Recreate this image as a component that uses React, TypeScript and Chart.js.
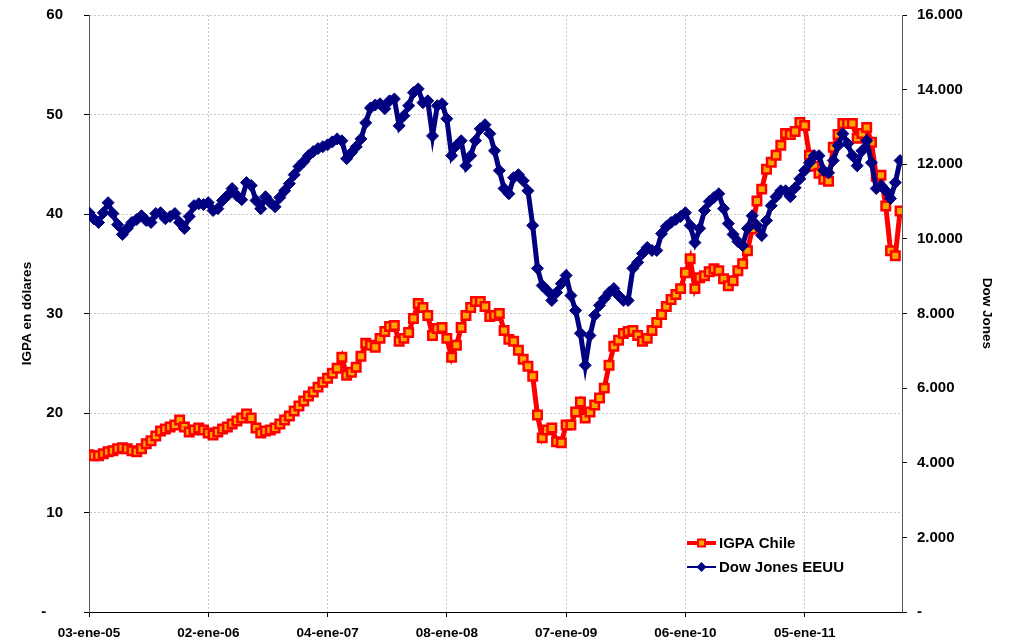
import React, { useEffect, useRef } from 'react';
import { Chart, registerables } from 'chart.js';

Chart.register(...registerables);

// X axis: trading sessions since 03-ene-05, one sample every 10 sessions
const xTickLabels = ['03-ene-05', '02-ene-06', '04-ene-07', '08-ene-08', '07-ene-09', '06-ene-10', '05-ene-11'];
const xTickSessions = [0, 250, 500, 750, 1000, 1250, 1500];
const lastSession = 1704;
const sampleStep = 10;

// IGPA Chile (USD) — left axis
const igpaChile = [
  15.8, 15.7, 15.7, 15.9, 16.1, 16.2, 16.4, 16.5, 16.4, 16.2,
  16.1, 16.4, 16.9, 17.2, 17.7, 18.2, 18.4, 18.6, 18.8, 19.3,
  18.6, 18.1, 18.3, 18.5, 18.3, 18.0, 17.8, 18.1, 18.4, 18.6,
  18.9, 19.2, 19.5, 19.9, 19.5, 18.5, 18.0, 18.2, 18.3, 18.5,
  18.9, 19.3, 19.7, 20.2, 20.7, 21.2, 21.7, 22.1, 22.6, 23.1,
  23.5, 24.0, 24.5, 25.6, 23.8, 24.1, 24.6, 25.7, 27.0, 26.8,
  26.6, 27.5, 28.2, 28.7, 28.8, 27.2, 27.5, 28.1, 29.5, 31.0,
  30.6, 29.8, 27.8, 28.5, 28.6, 27.5, 25.6, 26.8, 28.6, 29.8,
  30.6, 31.2, 31.2, 30.7, 29.7, 29.8, 30.0, 28.3, 27.4, 27.2,
  26.3, 25.4, 24.7, 23.7, 19.8, 17.5, 18.3, 18.5, 17.1, 17.0,
  18.8, 18.8, 20.1, 21.1, 19.5, 20.1, 20.8, 21.5, 22.5, 24.8,
  26.7, 27.3, 28.0, 28.2, 28.3, 27.8, 27.2, 27.5, 28.3, 29.1,
  29.9, 30.7, 31.4, 31.9, 32.5, 34.1, 35.5, 32.5, 33.6, 33.8,
  34.2, 34.5, 34.3, 33.5, 32.8, 33.3, 34.3, 35.0, 36.3, 38.5,
  41.3, 42.5, 44.5, 45.2, 45.9, 46.9, 48.1, 48.0, 48.3, 49.2,
  48.9, 45.9, 44.8, 44.1, 43.5, 43.3, 46.7, 48.0, 49.1, 49.1,
  49.1, 47.6, 48.1, 48.7, 47.2, 43.8, 43.9, 40.8, 36.3, 35.8,
  40.3,
];

// Dow Jones EEUU — right axis
const dowJones = [
  10700, 10540, 10440, 10700, 10970, 10680, 10380, 10120, 10280, 10440,
  10520, 10620, 10490, 10440, 10680, 10700, 10540, 10600, 10680, 10440,
  10280, 10600, 10890, 10940, 10920, 10970, 10760, 10810, 11030, 11160,
  11350, 11160, 11050, 11510, 11430, 11030, 10810, 11130, 10970, 10860,
  11110, 11290, 11480, 11720, 11940, 12070, 12230, 12340, 12420, 12470,
  12520, 12600, 12680, 12630, 12150, 12310, 12470, 12680, 13110, 13510,
  13590, 13620, 13490, 13700, 13750, 13030, 13300, 13570, 13920, 14020,
  13650, 13700, 12760, 13570, 13620, 13220, 12230, 12500, 12630, 11960,
  12230, 12630, 12950, 13060, 12820, 12360, 11830, 11350, 11210, 11640,
  11720, 11560, 11290, 10360, 9210, 8750, 8620, 8350, 8560, 8800,
  9020, 8480, 8080, 7470, 6610, 7410, 7950, 8220, 8400, 8560,
  8670, 8480, 8350, 8350, 9210, 9370, 9610, 9770, 9690, 9690,
  10140, 10330, 10440, 10520, 10600, 10700, 10360, 9900, 10280, 10760,
  11000, 11110, 11210, 10810, 10410, 10120, 9930, 9820, 10280, 10620,
  10360, 10090, 10490, 10890, 11130, 11290, 11290, 11130, 11370, 11610,
  11830, 12040, 12230, 12230, 11830, 11770, 12100, 12500, 12820, 12550,
  12230, 11960, 12360, 12630, 12040, 11350, 11430, 11290, 11080, 11510,
  12100,
];

const leftAxisMax = 60;
const leftAxisStep = 10;
const rightAxisMax = 16000;
const rightAxisStep = 2000;

const seriesNames = ['IGPA Chile', 'Dow Jones EEUU'];
const leftTitle = 'IGPA en dólares';
const rightTitle = 'Dow Jones';

const FONT = '"Liberation Sans", Arial, sans-serif';

function thousands(v: number): string {
  if (v === 0) return '-';
  return Math.round(v).toString().replace(/\B(?=(\d{3})+(?!\d))/g, '.');
}

const legendPlugin = {
  id: 'excelLegend',
  afterDraw(chart: any) {
    const ctx = chart.ctx as CanvasRenderingContext2D;
    ctx.save();
    const x0 = 687;
    const x1 = 716;
    const xm = (x0 + x1) / 2;
    const rows = [543, 567];
    // IGPA row
    ctx.strokeStyle = '#FF0000';
    ctx.lineWidth = 4;
    ctx.beginPath();
    ctx.moveTo(x0, rows[0]);
    ctx.lineTo(x1, rows[0]);
    ctx.stroke();
    ctx.fillStyle = '#FFA500';
    ctx.lineWidth = 2;
    ctx.fillRect(xm - 3.5, rows[0] - 3.5, 7, 7);
    ctx.strokeRect(xm - 3.5, rows[0] - 3.5, 7, 7);
    // Dow row
    ctx.strokeStyle = '#000080';
    ctx.lineWidth = 2;
    ctx.beginPath();
    ctx.moveTo(x0, rows[1]);
    ctx.lineTo(x1, rows[1]);
    ctx.stroke();
    ctx.fillStyle = '#000080';
    ctx.beginPath();
    ctx.moveTo(xm, rows[1] - 5);
    ctx.lineTo(xm + 5, rows[1]);
    ctx.lineTo(xm, rows[1] + 5);
    ctx.lineTo(xm - 5, rows[1]);
    ctx.closePath();
    ctx.fill();
    // text
    ctx.fillStyle = '#000';
    ctx.font = `bold 15px ${FONT}`;
    ctx.textBaseline = 'middle';
    ctx.textAlign = 'left';
    ctx.fillText(seriesNames[0], 719, rows[0] + 1);
    ctx.fillText(seriesNames[1], 719, rows[1] + 1);
    ctx.restore();
  },
};

export default function App() {
  const canvasRef = useRef<HTMLCanvasElement | null>(null);

  useEffect(() => {
    const canvas = canvasRef.current;
    if (!canvas) return;
    const igpaPoints = igpaChile.map((v, i) => ({ x: i * sampleStep, y: v }));
    const dowPoints = dowJones.map((v, i) => ({ x: i * sampleStep, y: v }));

    const chart = new Chart(canvas, {
      type: 'line',
      data: {
        datasets: [
          {
            label: seriesNames[0],
            data: igpaPoints,
            yAxisID: 'y',
            borderColor: '#FF0000',
            borderWidth: 5,
            backgroundColor: '#FFA500',
            pointStyle: 'rect',
            pointRadius: 6,
            pointBorderWidth: 2.5,
            pointBorderColor: '#FF0000',
            pointBackgroundColor: '#FFA500',
            tension: 0,
            order: 2,
          },
          {
            label: seriesNames[1],
            data: dowPoints,
            yAxisID: 'y1',
            borderColor: '#000080',
            borderWidth: 5,
            backgroundColor: '#000080',
            pointStyle: 'rectRot',
            pointRadius: 6,
            pointBorderWidth: 1,
            pointBorderColor: '#000080',
            pointBackgroundColor: '#000080',
            tension: 0,
            order: 1,
          },
        ],
      },
      options: {
        animation: false,
        responsive: true,
        maintainAspectRatio: false,
        layout: { padding: { top: 15, left: 0, right: 0, bottom: 0 } },
        plugins: {
          legend: { display: false },
          tooltip: { enabled: false },
        },
        scales: {
          x: {
            type: 'linear',
            min: 0,
            max: lastSession,
            afterBuildTicks: (scale: any) => {
              scale.ticks = xTickSessions.map((v) => ({ value: v }));
            },
            afterFit: (scale: any) => {
              scale.height = 31;
              scale.paddingLeft = 0;
              scale.paddingRight = 0;
            },
            ticks: {
              autoSkip: false,
              maxRotation: 0,
              padding: 8,
              color: '#000',
              font: { family: FONT, size: 13.5, weight: 'bold' },
              callback: (value: any) => {
                const idx = xTickSessions.indexOf(Number(value));
                return idx >= 0 ? xTickLabels[idx] : '';
              },
            },
            grid: {
              color: '#c8c8c8',
              lineWidth: 1,
              tickLength: 5,
              tickColor: '#000',
              tickBorderDash: [],
            },
            border: { color: '#000', width: 1, dash: [2, 2] },
          },
          y: {
            type: 'linear',
            position: 'left',
            min: 0,
            max: leftAxisMax,
            afterFit: (scale: any) => {
              scale.width = 89;
              scale.paddingTop = 0;
              scale.paddingBottom = 0;
            },
            ticks: {
              stepSize: leftAxisStep,
              padding: 21,
              color: '#000',
              font: { family: FONT, size: 15, weight: 'bold' },
              callback: (value: any) => (Number(value) === 0 ? '-    ' : String(value)),
            },
            grid: {
              color: '#c8c8c8',
              lineWidth: 1,
              tickLength: 5,
              tickColor: '#000',
              tickBorderDash: [],
            },
            border: { color: '#555', width: 1, dash: [2, 2] },
            title: {
              display: true,
              text: leftTitle,
              color: '#000',
              padding: 19,
              font: { family: FONT, size: 13.5, weight: 'bold' },
            },
          },
          y1: {
            type: 'linear',
            position: 'right',
            min: 0,
            max: rightAxisMax,
            afterFit: (scale: any) => {
              scale.width = 112;
              scale.paddingTop = 0;
              scale.paddingBottom = 0;
            },
            ticks: {
              stepSize: rightAxisStep,
              padding: 10,
              color: '#000',
              font: { family: FONT, size: 15, weight: 'bold' },
              callback: (value: any) => thousands(Number(value)),
            },
            grid: {
              drawOnChartArea: false,
              tickLength: 5,
              tickColor: '#000',
            },
            border: { color: '#555', width: 1 },
            title: {
              display: true,
              text: rightTitle,
              color: '#000',
              padding: 19,
              font: { family: FONT, size: 13.5, weight: 'bold' },
            },
          },
        },
      } as any,
      plugins: [legendPlugin],
    });

    return () => {
      chart.destroy();
    };
  }, []);

  return (
    <div style={{ position: 'absolute', left: 0, top: 0, width: 1014, height: 643, background: '#fff' }}>
      <canvas ref={canvasRef} />
    </div>
  );
}
